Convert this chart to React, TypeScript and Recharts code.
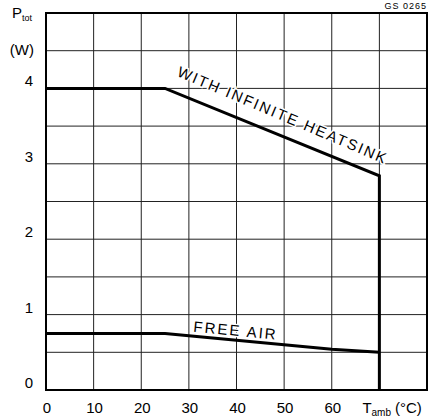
import React from "react";
import {
  LineChart,
  Line,
  XAxis,
  YAxis,
  CartesianGrid,
  ReferenceArea,
  ReferenceDot,
} from "recharts";

// Ambient temperature (°C) breakpoints and power (W) for each curve
const heatsinkTemp = [0, 25, 70, 70];
const heatsinkPower = [4.0, 4.0, 2.84, 0];
const freeAirTemp = [0, 25, 30, 40, 50, 60, 70];
const freeAirPower = [0.75, 0.75, 0.72, 0.66, 0.6, 0.54, 0.5];

const xTicks = [0, 10, 20, 30, 40, 50, 60, 70, 80];
const yTicks = [0, 0.5, 1, 1.5, 2, 2.5, 3, 3.5, 4, 4.5, 5];
const yLabels = ["0", "1", "2", "3", "4"];

const heatsinkData = heatsinkTemp.map((t, i) => ({ t, p: heatsinkPower[i] }));
const freeAirData = freeAirTemp.map((t, i) => ({ t, p: freeAirPower[i] }));

const FONT = "'Liberation Sans', Arial, Helvetica, sans-serif";

const XTick = (props: any) => {
  const { x, y, payload } = props;
  const v = payload.value;
  if (v === 80) return null;
  if (v === 70) {
    return (
      <text x={x - 17} y={y + 15} fontFamily={FONT} fontSize={15} fill="#000" textAnchor="start">
        T
        <tspan fontSize={10} dy={3}>amb</tspan>
        <tspan dy={-3} dx={4}>(°C)</tspan>
      </text>
    );
  }
  return (
    <text x={x + 1} y={y + 15} fontFamily={FONT} fontSize={15} fill="#000" textAnchor="middle">
      {String(v)}
    </text>
  );
};

const YTick = (props: any) => {
  const { x, y, payload } = props;
  const v = payload.value;
  if (v === 5) {
    return (
      <text x={x - 26} y={y + 5} fontFamily={FONT} fontSize={15} fill="#000" textAnchor="start">
        P
        <tspan fontSize={9} dy={3}>tot</tspan>
      </text>
    );
  }
  if (v === 4.5) {
    return (
      <text x={x - 4} y={y + 4} fontFamily={FONT} fontSize={15} fill="#000" textAnchor="end">
        (W)
      </text>
    );
  }
  const s = String(v);
  if (!yLabels.includes(s)) return null;
  return (
    <text x={x - 5} y={y - 2} fontFamily={FONT} fontSize={15} fill="#000" textAnchor="end">
      {s}
    </text>
  );
};

const labelText = (text: string, angle: number, size: number, spacing: number) => (p: any) => {
  const { cx, cy } = p;
  return (
    <text
      x={cx}
      y={cy}
      transform={`rotate(${angle} ${cx} ${cy})`}
      textAnchor="middle"
      fontFamily={FONT}
      fontSize={size}
      letterSpacing={spacing}
      fill="#000"
      stroke="#fff"
      strokeWidth={3}
      paintOrder="stroke"
    >
      {text}
    </text>
  );
};

const codeText = (p: any) => {
  const { cx, cy } = p;
  return (
    <text x={cx} y={cy - 4} textAnchor="end" fontFamily={FONT} fontSize={9} letterSpacing={1} fill="#000">
      GS 0265
    </text>
  );
};

export default function App() {
  return (
    <div style={{ position: "absolute", left: 0, top: 0, background: "#fff" }}>
      <LineChart width={436} height={418} margin={{ top: 13, right: 9, bottom: 0, left: 0 }}>
        <CartesianGrid stroke="#222" strokeWidth={1} horizontalValues={yTicks} verticalValues={xTicks} />
        <XAxis
          type="number"
          dataKey="t"
          domain={[0, 80]}
          ticks={xTicks}
          height={28}
          axisLine={false}
          tickLine={false}
          tick={<XTick />}
          allowDataOverflow
        />
        <YAxis
          type="number"
          dataKey="p"
          domain={[0, 5]}
          ticks={yTicks}
          width={46}
          axisLine={false}
          tickLine={false}
          tick={<YTick />}
          interval={0}
          allowDataOverflow
        />
        <ReferenceArea x1={0} x2={80} y1={0} y2={5} fill="none" stroke="#000" strokeWidth={2} fillOpacity={0} />
        <ReferenceDot x={49.3} y={3.58} r={0} shape={labelText("WITH INFINITE HEATSINK", 23, 15, 2)} />
        <ReferenceDot x={39.7} y={0.72} r={0} shape={labelText("FREE AIR", 5.5, 15, 2)} />
        <Line
          data={freeAirData}
          dataKey="p"
          type="linear"
          stroke="#000"
          strokeWidth={3}
          dot={false}
          isAnimationActive={false}
        />
        <Line
          data={heatsinkData}
          dataKey="p"
          type="linear"
          stroke="#000"
          strokeWidth={3}
          dot={false}
          isAnimationActive={false}
        />
        <ReferenceDot x={80} y={5} r={0} shape={codeText} ifOverflow="visible" />
      </LineChart>
    </div>
  );
}
